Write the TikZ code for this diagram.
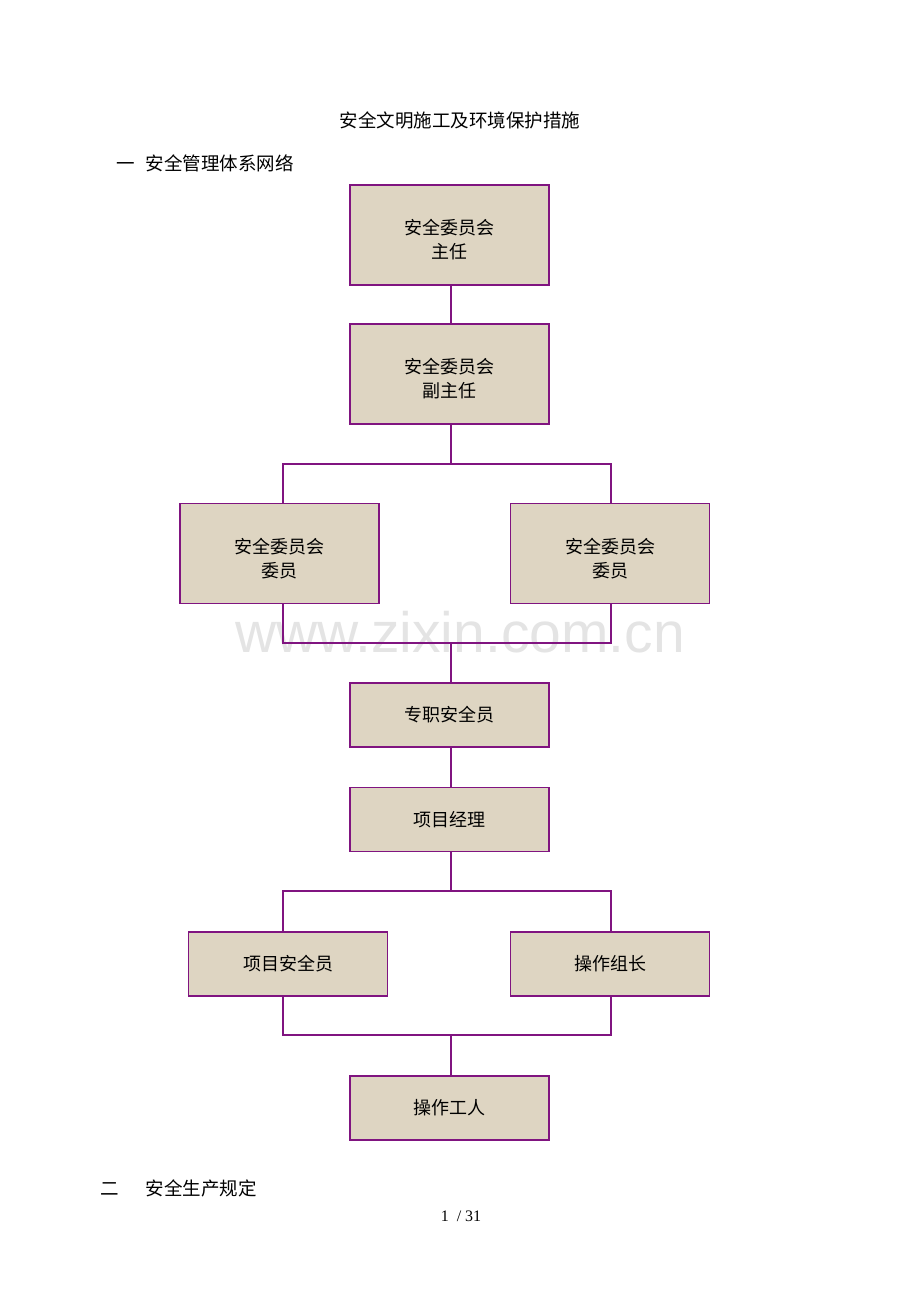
\documentclass[tikz,border=0pt]{standalone}
\usepackage{fontspec}
\newfontfamily\cjk{Noto Sans CJK SC}
\newfontfamily\wm{Liberation Sans}
\setmainfont{Liberation Serif}
\definecolor{boxline}{RGB}{128,20,128}
\definecolor{boxfill}{RGB}{222,213,194}
\definecolor{wmgray}{RGB}{228,228,228}
\tikzset{
  orgbox/.style={draw=boxline, line width=1.1pt, fill=boxfill, minimum width=199pt, inner sep=0pt, align=center, font=\cjk\fontsize{18}{24}\selectfont},
  tallbox/.style={orgbox, minimum height=100pt},
  shortbox/.style={orgbox, minimum height=64pt},
  boxtext/.style={align=center, inner sep=0pt, font=\cjk\fontsize{18}{24}\selectfont, yshift=-5pt},
  link/.style={draw=boxline, line width=1.1pt}
}
\begin{document}
\begin{tikzpicture}[x=1pt,y=-1pt]
\useasboundingbox (0,0) rectangle (920,1302);
\node[text=wmgray, font=\wm\fontsize{57}{57}\selectfont, inner sep=0pt] (wmark) at (460,632) {www.zixin.com.cn};
\node[font=\cjk\fontsize{18.5}{20}\selectfont, inner sep=0pt] (title) at (460,120) {安全文明施工及环境保护措施};
\node[font=\cjk\fontsize{18.5}{20}\selectfont, inner sep=0pt, anchor=west] (h1) at (116,163) {一\hspace{0.6em}安全管理体系网络};
\node[font=\cjk\fontsize{18.5}{20}\selectfont, inner sep=0pt, anchor=west] (h2) at (100,1188) {二\hspace{1.45em}安全生产规定};
\node[font=\fontsize{16}{18}\selectfont, inner sep=0pt] (pg) at (461,1216) {1 \ / 31};

\node[tallbox, label={[boxtext]center:安全委员会\\主任}] (b1) at (449.5,235) {};
\node[tallbox, label={[boxtext]center:安全委员会\\副主任}] (b2) at (449.5,374) {};
\node[tallbox, label={[boxtext]center:安全委员会\\委员}] (b3) at (279.5,553.5) {};
\node[tallbox, label={[boxtext]center:安全委员会\\委员}] (b4) at (610,553.5) {};
\node[shortbox] (b5) at (449.5,715) {专职安全员};
\node[shortbox] (b6) at (449.5,819.5) {项目经理};
\node[shortbox] (b7) at (288,964) {项目安全员};
\node[shortbox] (b8) at (610,964) {操作组长};
\node[shortbox] (b9) at (449.5,1108) {操作工人};

\coordinate (j1) at (451,464);
\coordinate (j1l) at (283,464);
\coordinate (j1r) at (611,464);
\coordinate (j2) at (451,643);
\coordinate (j2l) at (283,643);
\coordinate (j2r) at (611,643);
\coordinate (j3) at (451,891);
\coordinate (j3l) at (283,891);
\coordinate (j3r) at (611,891);
\coordinate (j4) at (451,1035);
\coordinate (j4l) at (283,1035);
\coordinate (j4r) at (611,1035);

\draw[link] (b1.south -| j1) -- (b2.north -| j1);
\draw[link] (b2.south -| j1) -- (j1);
\draw[link] (j1l |- b3.north) -- (j1l) -- (j1r) -- (j1r |- b4.north);
\draw[link] (j2l |- b3.south) -- (j2l) -- (j2r) -- (j2r |- b4.south);
\draw[link] (j2) -- (b5.north -| j2);
\draw[link] (b5.south -| j2) -- (b6.north -| j2);
\draw[link] (b6.south -| j3) -- (j3);
\draw[link] (j3l |- b7.north) -- (j3l) -- (j3r) -- (j3r |- b8.north);
\draw[link] (j4l |- b7.south) -- (j4l) -- (j4r) -- (j4r |- b8.south);
\draw[link] (j4) -- (b9.north -| j4);
\end{tikzpicture}
\end{document}
